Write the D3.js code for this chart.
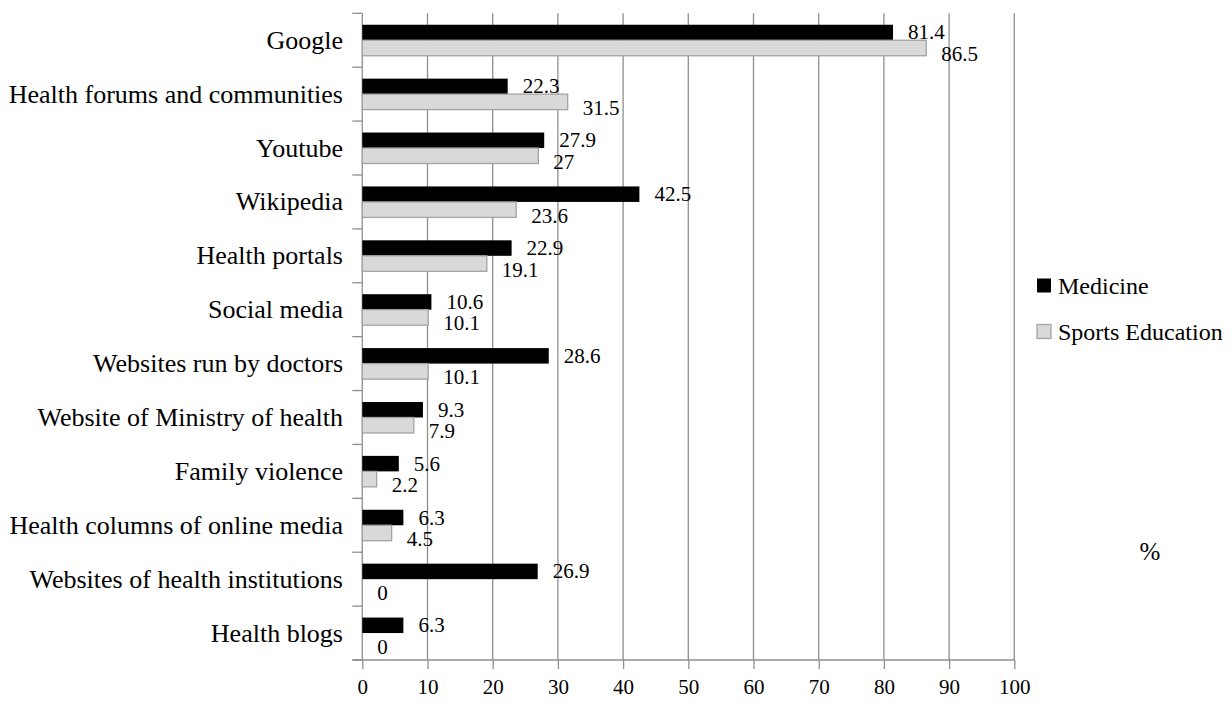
<!DOCTYPE html>
<html>
<head>
<meta charset="utf-8">
<script src="https://cdn.jsdelivr.net/npm/d3@7"></script>
<style>
  html, body { margin: 0; padding: 0; background: #fff; }
  svg { display: block; }
  text { font-family: "Liberation Serif", "Times New Roman", serif; fill: #000; }
</style>
</head>
<body>
<svg id="chart" width="1232" height="702"></svg>
<script>
const categories = ["Google","Health forums and communities","Youtube","Wikipedia","Health portals","Social media","Websites run by doctors","Website of Ministry of health","Family violence","Health columns of online media","Websites of health institutions","Health blogs"];
const medicine = [81.4,22.3,27.9,42.5,22.9,10.6,28.6,9.3,5.6,6.3,26.9,6.3];
const sportsEducation = [86.5,31.5,27,23.6,19.1,10.1,10.1,7.9,2.2,4.5,0,0];
const seriesNames = ["Medicine","Sports Education"];
const xTicks = [0,10,20,30,40,50,60,70,80,90,100];
const unitLabel = "%";

(function () {
const svg = d3.select("#chart");
const FS = 21, FS_CAT = 26, FS_LEG = 24, FS_UNIT = 25;
const pLeft = 362.3, pRight = 1014.3, pTop = 13.3, pBottom = 660;
const gridColor = "#8f8f8f";

const x = d3.scaleLinear().domain([0,100]).range([pLeft,pRight]);
const y = d3.scaleBand().domain(categories).range([pTop,pBottom]).padding(0);
const barH = 15.5;

// gridlines
svg.append("g").selectAll("line").data(xTicks.slice(1)).join("line")
  .attr("x1", d => x(d)).attr("x2", d => x(d))
  .attr("y1", pTop).attr("y2", pBottom)
  .attr("stroke", gridColor).attr("stroke-width", 1.3);

// bottom axis
const xAxis = d3.axisBottom(x).tickValues(xTicks).tickSize(9).tickSizeOuter(0).tickPadding(10);
const gx = svg.append("g").attr("transform", `translate(0,${pBottom})`).call(xAxis);
gx.attr("font-family", "Liberation Serif");
gx.select(".domain").attr("stroke", gridColor).attr("stroke-width", 1.3)
  .attr("d", `M${pLeft-10},0H${pRight}`);
gx.selectAll(".tick line").attr("stroke", gridColor).attr("stroke-width", 1.3);
gx.selectAll(".tick text").attr("font-size", FS).attr("fill", "#000");

// left axis line + category ticks at band boundaries
svg.append("line").attr("x1", pLeft).attr("x2", pLeft).attr("y1", pTop).attr("y2", pBottom)
  .attr("stroke", gridColor).attr("stroke-width", 1.3);
const boundaries = categories.map(c => y(c)).concat([pBottom]);
svg.append("g").selectAll("line").data(boundaries).join("line")
  .attr("x1", pLeft - 10).attr("x2", pLeft).attr("y1", d => d).attr("y2", d => d)
  .attr("stroke", gridColor).attr("stroke-width", 1.3);

// category labels
svg.append("g").selectAll("text").data(categories).join("text")
  .attr("x", 343).attr("y", d => y(d) + y.bandwidth()/2 + 8.5)
  .attr("text-anchor", "end").attr("font-size", FS_CAT).text(d => d);

const rows = categories.map((c,i) => ({c, m: medicine[i], s: sportsEducation[i]}));
const center = d => y(d.c) + y.bandwidth()/2;

// Medicine bars
svg.append("g").selectAll("rect").data(rows).join("rect")
  .attr("x", x(0)).attr("y", d => center(d) - barH)
  .attr("width", d => x(d.m) - x(0)).attr("height", barH)
  .attr("fill", "#000");

// Sports Education bars
svg.append("g").selectAll("rect").data(rows.filter(d => d.s > 0)).join("rect")
  .attr("x", x(0)).attr("y", d => center(d))
  .attr("width", d => x(d.s) - x(0)).attr("height", barH)
  .attr("fill", "#d9d9d9").attr("stroke", "#a3a3a3").attr("stroke-width", 1.3);

// labels
svg.append("g").selectAll("text").data(rows).join("text")
  .attr("x", d => x(d.m) + 15).attr("y", d => center(d) - barH/2 + 7)
  .attr("font-size", FS).text(d => d.m);
svg.append("g").selectAll("text").data(rows).join("text")
  .attr("x", d => x(d.s) + 15).attr("y", d => center(d) + barH/2 + 13)
  .attr("font-size", FS).text(d => d.s);

// legend
const legendColors = [{fill:"#000", stroke:"none"},{fill:"#d9d9d9", stroke:"#a3a3a3"}];
const lg = svg.append("g");
seriesNames.forEach((n,i) => {
  const cy = 285.5 + i*46;
  lg.append("rect").attr("x", 1037).attr("y", cy - 7).attr("width", 14).attr("height", 14)
    .attr("fill", legendColors[i].fill).attr("stroke", legendColors[i].stroke).attr("stroke-width", 1.3);
  lg.append("text").attr("x", 1058).attr("y", cy + 8).attr("font-size", FS_LEG).text(n);
});

// unit label
svg.append("text").attr("x", 1150).attr("y", 560).attr("text-anchor", "middle")
  .attr("font-size", FS_UNIT).text(unitLabel);
})();
</script>
</body>
</html>
